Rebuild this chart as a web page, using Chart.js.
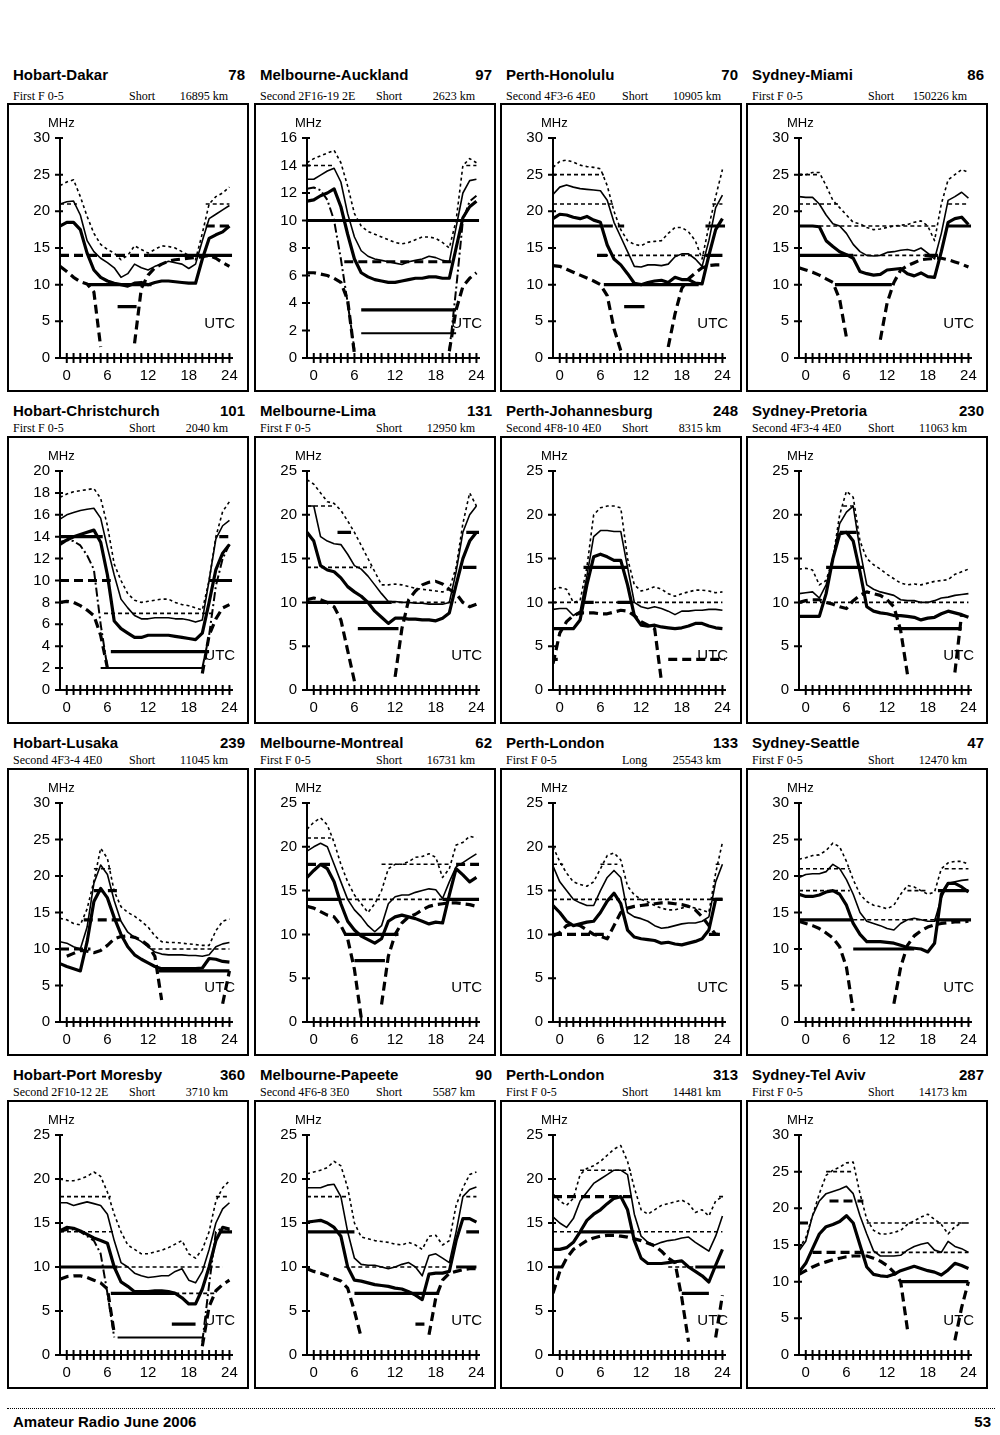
<!DOCTYPE html>
<html>
<head>
<meta charset="utf-8">
<script src="https://cdn.jsdelivr.net/npm/chart.js@4.4.1/dist/chart.umd.min.js"></script>
<style>
  body { margin: 0; background: #fff; }
  #page { position: relative; width: 1000px; height: 1435px; overflow: hidden; font-family: "Liberation Sans", Arial, sans-serif; color: #000; }
  .abs { position: absolute; white-space: nowrap; line-height: 1; }
  .title { font-weight: bold; font-size: 15px; }
  .sub { font-family: "Liberation Serif", "Times New Roman", serif; font-size: 12px; }
  .box { position: absolute; box-sizing: border-box; border: 2px solid #000; width: 242px; }
  .box canvas { position: absolute; left: 0; top: 0; }
</style>
</head>
<body>
<div id="page"></div>
<script>
// panel text
const routes = ['Hobart-Dakar', 'Melbourne-Auckland', 'Perth-Honolulu', 'Sydney-Miami',
  'Hobart-Christchurch', 'Melbourne-Lima', 'Perth-Johannesburg', 'Sydney-Pretoria',
  'Hobart-Lusaka', 'Melbourne-Montreal', 'Perth-London', 'Sydney-Seattle',
  'Hobart-Port Moresby', 'Melbourne-Papeete', 'Perth-London', 'Sydney-Tel Aviv'];
const sfi = [78, 97, 70, 86, 101, 131, 248, 230, 239, 62, 133, 47, 360, 90, 313, 287];
const modes = ['First F 0-5', 'Second 2F16-19 2E', 'Second 4F3-6 4E0', 'First F 0-5',
  'First F 0-5', 'First F 0-5', 'Second 4F8-10 4E0', 'Second 4F3-4 4E0',
  'Second 4F3-4 4E0', 'First F 0-5', 'First F 0-5', 'First F 0-5',
  'Second 2F10-12 2E', 'Second 4F6-8 3E0', 'First F 0-5', 'First F 0-5'];
const paths = ['Short', 'Short', 'Short', 'Short', 'Short', 'Short', 'Short', 'Short',
  'Short', 'Short', 'Long', 'Short', 'Short', 'Short', 'Short', 'Short'];
const distances = [16895, 2623, 10905, 150226, 2040, 12950, 8315, 11063,
  11045, 16731, 25543, 12470, 3710, 5587, 14481, 14173];

// axes
const yMax = [30, 16, 30, 30, 20, 25, 25, 25, 30, 25, 25, 30, 25, 25, 25, 30];
const yStep = [5, 2, 5, 5, 2, 5, 5, 5, 5, 5, 5, 5, 5, 5, 5, 5];
const xLabels = [0, 6, 12, 18, 24];
const hours = [-1, 0, 1, 2, 3, 4, 5, 6, 7, 8, 9, 10, 11, 12, 13, 14, 15, 16, 17, 18, 19, 20, 21, 22, 23, 24];

// curves, one value per hour from -1 to 24 (MHz)
const upper = [
  [23.5,24,24.3,22,19.3,17,15.5,14.8,14.3,13.4, 14,15.3,14.8,14.3,14.8,15.3,15.2,15,14.5,14, 13.4,17,21,22,22.5,23.3],
  [14.2,14.5,14.7,14.9,15.1,14.2,12.5,10.5,9.6,9.2, 9,8.8,8.6,8.4,8.3,8.4,8.6,8.8,8.8,8.7, 8.4,8,10,14,14.5,14.2],
  [26,26.8,27,26.7,26.3,26.1,26,25.8,23.5,20, 17.5,16,15.5,15.3,15.8,15.9,16,17,17.8,17.8, 17.2,16,13.5,18,22,25.7],
  [25,25,25.3,25.3,23.5,21.5,20.5,19.5,18.5,18.3, 17.8,17.5,17.6,17.8,18,18.1,18.2,18.5,18.7,18, 16,21,24.3,25,25.7,25.3],
  [17.6,17.9,18.1,18.2,18.3,18.4,17.5,15,11.5,10, 8.8,8.2,8,8.1,8.2,8.3,8.3,8,7.8,7.7, 7.5,7.3,10,14,16.3,17.2],
  [24,23.5,22.5,21.5,21.3,20.5,19.3,18,16.5,15, 13.5,12,12,12.1,12,11.8,11.6,11.5,11.4,11.3, 11.2,11.5,14,19,22.5,21],
  [11.5,11.7,11.5,10,10.2,14,20,20.8,21,21, 20.8,15,12,11.3,11.5,11.8,11.5,11,10.7,11, 11.2,11.4,11.4,11.3,11.1,11.2],
  [13.8,13.9,13.7,12,12.5,15,20,22.7,22,17, 15,14.3,13.8,13.2,12.7,12.2,12,12.1,12,12.2, 12.4,12.5,12.6,13.2,13.5,13.8],
  [14.2,14,13.5,13.3,15.5,19.3,23.8,22.4,17.9,15.8, 15,14.5,13.8,13,11.8,11,10.9,10.9,10.8,10.7, 10.6,10.5,10.5,12.5,13.8,14.1],
  [22,22.8,23.3,22.5,20.5,18,16,14.5,13.5,12.5, 13.5,15,17.5,18,18,18.3,18.8,18.9,19.2,18.8, 16.5,17.5,20.2,20.5,21.2,21],
  [20,18.3,17,16,15.7,15.5,16,17.5,19,19.3, 18.5,15.5,14.5,14,13.7,13.3,13,12.8,12.8,13, 13.2,13,12.8,12.5,17,20.5],
  [22.3,22.5,22.8,22.9,23.5,24.5,24,22,19.5,17.5, 16.5,16,15.8,15.5,16,17.5,18.7,18.5,18,17.5, 17.8,21,21.8,22,22,21.6],
  [20,19.8,19.8,20,20.3,20.8,20.3,18.5,16,14, 12.5,12,11.5,11.5,11.7,11.9,12.2,12.6,13,11.5, 11,12,14,17.5,19,19.8],
  [20.6,20.8,21,21.3,22,21.5,19,15,13.4,13.2, 13,12.9,12.8,12.6,12.5,12.8,12.5,12,13.5,13.6, 12.5,13,17,19,20.5,20.8],
  [18.3,17.5,17,17.8,20.5,21.2,21.5,22,22.7,23.4, 23.8,22,19,16.5,16,16.5,17,17.2,17.4,17.6, 17.2,16.2,16.5,15.8,17.5,18],
  [14.5,16,19,22,24.5,25.2,25.6,26.2,26.3,22, 18.5,17,16.5,16.5,16.7,17,17.8,18.3,18.8,19.2, 18.5,17.8,16.5,17.5,18,18]
];

const median = [
  [21,21.3,21.4,19.5,16,14.5,13.6,13,12.3,11, 11.5,12.8,12.3,12,12.5,12.8,13.2,13,12.8,12.2, 12.8,16,19,19.6,20.2,20.8],
  [13,13,13.3,13.6,13.8,12.8,10.5,8.8,7.8,7.4, 7.2,7.1,7,6.9,6.8,7,7.1,7.2,7.4,7.3, 7.1,7,9.5,12,12.9,13],
  [22.3,23.3,23.6,23.3,23.1,23,22.9,22.8,21.5,18.5, 16.5,14.5,12.5,12.4,12.7,12.7,12.6,12.8,13.8,14.2, 14.2,13.5,12.5,16,20.5,22.2],
  [22,21.9,21.9,21,19.5,18.3,18,17,15.5,14.5, 14,13.9,14,14.4,14.5,14.7,14.8,14.6,15,14.3, 13.5,17,21.5,22,22.6,21.8],
  [15.6,16,16.2,16.4,16.5,16.6,15.7,13,10.5,8.3, 7.5,6.8,6.5,6.5,6.6,6.6,6.6,6.5,6.5,6.4, 6.2,6.4,10,13.8,15,15.5],
  [21,21,17.5,17,16.7,16.6,15.5,14.2,13.8,13, 12,11,10.1,10.1,10,10,9.9,9.9,9.8,9.8, 9.8,10,13.5,18,20,21],
  [9.2,9.3,9.3,8.5,9,13,17.5,18.2,18.2,18.1, 18.1,14,10,9.5,9.3,9.5,9.3,9,8.6,9, 9,9.1,9.1,9.2,9.2,9.1],
  [11,11.1,11.2,10.5,12,15,19,20.3,21,16, 12,11.5,11.2,11,10.8,10.3,10.2,10.2,10,10, 10.2,10.5,10.6,10.8,10.9,11],
  [11,10.8,10.3,10,13,19,21.5,20.2,16.6,13.8, 12.3,11.6,11,10.3,9.6,9.3,9.2,9.2,9.2,9.1, 9.1,9,9.2,10.3,10.7,10.9],
  [19.5,20,20.4,20,18,16,14,12.8,12,11, 10.3,11,13.5,14.3,14.5,14.5,14.8,15,15.2,15.1, 14.1,16,17.7,18.2,18.7,19.2],
  [17.8,16,15,14,13.6,13.3,13.3,15,16.5,17.3, 16.5,12.5,12,11.8,11.5,11,10.7,10.8,11,11.2, 11.3,11.3,11.5,12,16,18],
  [19.8,20.2,20.3,20.3,20.6,21.6,21,19.5,17.5,15, 13.8,13.5,13.2,12.8,12.6,13.5,14,14.2,14,13.8, 13.8,17,19,19.2,19.4,19.5],
  [17.3,17.3,17,17.2,17.4,17.2,17,16,13,10.5, 10,9.3,9,8.8,8.9,9,9,9.5,9.8,8.5, 8.2,9.5,12,15,16.6,17.3],
  [19,19,19,19.3,19.4,18,14,11,10.3,10.2, 10.2,10,9.8,10,10.3,10.5,10,9,11.3,11.5, 11,10.5,14,18,18.8,19.1],
  [15.7,15,14.5,15.5,17.5,18.5,19.5,20,20.5,21, 21,20.5,16,13.5,12.8,12.5,12.8,13,13.1,13.3, 13.4,12.8,12.3,11.8,13.5,15.8],
  [14.2,15.5,19,21,22,22.3,22.6,23,22,19, 16.5,14.2,13.5,13.5,13.5,13.6,14.3,14.8,15.1,15.3, 14.3,14,15.5,14.8,14.5,14]
];

const fot = [
  [18,18.5,18.5,17.5,14.3,12,11,10.5,10.2,10, 9.8,10.2,10.3,10,10.3,10.5,10.5,10.4,10.3,10.2, 10.2,13.5,16.3,16.8,17.2,18],
  [11.4,11.5,11.8,12,12.3,11,9,7.2,6.2,5.9, 5.7,5.6,5.5,5.5,5.6,5.7,5.8,5.8,5.9,5.9, 5.8,5.8,8,10.2,11,11.4],
  [19,19.6,19.5,19.2,19,19.3,18.8,18.5,15.4,13.5, 12.7,11.5,10.2,10,10.3,10.5,10.6,10.3,11,10.7, 10.7,10.2,10.1,14,17.5,19],
  [18,18,18,17.9,16,15.2,14.5,14.1,13.6,11.8, 11.5,11.3,11.4,12,12.1,12.2,11.5,11.2,11.6,11.1, 11,14.5,18.5,19,19.2,18.2],
  [13.3,13.7,14,14.2,14.4,14.6,13.5,10.5,6.3,5.6, 5.2,4.8,4.8,5,5,5,5,4.9,4.8,4.7, 4.6,5.2,8,11,12.5,13.3],
  [18,17,14.2,13.7,13.5,12.8,11.8,11.2,10.7,10, 9,8.3,7.6,8.2,8.2,8.1,8.1,8,8,7.9, 8.2,8.8,12,15,17,18],
  [7,7,7,7,8,12,15.2,15.5,15.2,14.8, 14.8,12,8.5,7.4,7.3,7.4,7.2,7.1,7,7.1, 7.3,7.6,7.6,7.3,7.1,7],
  [8.4,8.4,8.4,8.4,11,15,17.8,18,17,13.5, 9.5,9,8.8,8.7,8.5,8.5,8.4,8.3,8,8.2, 8.3,8.7,9,8.8,8.6,8.3],
  [8,7.6,7.3,7,11,16.5,18.3,17,14.3,12, 10.3,9.2,8.6,8.1,7.6,7.3,7.3,7.3,7.3,7.3, 7.3,7.4,8.7,8.6,8.3,8.2],
  [16.5,17.3,18,17.5,16,13.5,11.5,10.5,9.8,9.4, 9,9.5,11.5,12,12.2,12,11.8,11.5,11.2,11.4, 11.3,14.5,17.5,16.8,16,16.5],
  [13.3,12.5,11.5,11,11.2,11.4,11.5,12.5,13.8,14.7, 13.5,10.5,9.7,9.5,9.4,9.3,9,9.1,8.9,8.8, 9,9.2,9.5,10.5,14,14],
  [17.5,17.2,17.2,17.4,17.8,18,17.5,16,13.5,12, 11,11,11,10.9,10.8,10.5,10.2,10.1,10,9.6, 10.8,17.5,19,19,18.5,17.8],
  [14.1,14.5,14.4,14.1,13.7,13.3,13,12.7,10,8.3, 7.8,7.2,7.2,7.2,7.3,7.3,7.2,7,6.5,5.8, 5.8,7.5,10,13,14.5,14.3],
  [15.1,15.2,15.3,15,14.5,13.5,10,8.5,8.4,8.2, 8,7.9,7.8,7.6,7.5,7.2,6.8,6.3,9.2,9.3, 9.3,9.5,13,15.5,15.5,15.1],
  [12,12,12.2,12.8,14,15.3,16,16.5,17.2,17.8, 18,16.5,13,11,10.4,10.4,10.4,10.5,10.6,10.7, 10,9.5,9,8.3,10.2,12],
  [11.3,12.5,14.5,16.5,17.5,17.8,18.2,19,18,15, 12,11,10.8,10.7,11,11.5,11.8,12.1,11.8,11.5, 11.3,10.9,11.6,12.5,12.2,11.8]
];

const luf = [
  [12.5,11.8,11,10.4,10.1,9,1.5,null,null,null, null,2,9.5,11.3,12.3,12.8,13.2,13.4,13.5,13.6, 13.7,13.8,14,13.6,13,12.5],
  [6.2,6.2,6.1,6,5.8,5.5,4.2,0.3,null,null, null,null,null,null,null,null,null,null,null,null, null,0.5,3.5,5.2,5.8,6.2],
  [12.6,12.5,12.1,11.7,11.3,10.9,10.5,10,8.5,4, 1,null,null,null,null,null,null,1.5,6,9.5, 10.8,11.6,12.3,12.6,12.7,12.7],
  [12.3,12,11.7,11.3,10.8,10.3,8,2.8,null,null, null,null,2.5,7.5,10.3,12,12.6,13,13.4,13.5, 13.6,13.6,13.4,13.1,12.8,12.4],
  [8,8.1,8,7.7,7.3,6.8,5,2,null,null, null,null,null,null,null,null,null,null,null,null, null,1.5,5,6.5,7.5,7.8],
  [10.3,10.5,10.3,10,9.5,8,4.5,1,null,null, null,null,null,1.5,7,10.3,11.3,12,12.3,12.4, 12.1,11.5,11,10,9.5,9.8],
  [3,6.5,7.8,8.5,8.8,8.8,8.8,8.7,8.7,8.9, 9.1,9,8.5,7.8,7.4,7,1,null,null,null, null,null,null,null,null,null],
  [10,10.2,10.3,10.3,10,9.8,9.5,9.3,10.2,10.8, 11.2,11,10.8,10.3,9.5,6.8,1.8,null,null,null, null,null,null,2,8.7,null],
  [null,9,9.4,9.8,9.7,9.5,9.8,10.5,11.4,11.7, 11.8,11.6,11.2,10.5,9,3,null,null,null,null, null,null,null,null,2.5,7],
  [13.2,13,12.6,12.2,12,11,9.5,6,0.5,null, null,2,7.5,10,11.3,12,12.3,12.8,13.2,13.4, 13.5,13.6,13.6,13.5,13.4,13.2],
  [9.8,10.2,11,11.2,11,10.5,10,9.8,9.5,11, 12.5,13,13.2,13.3,13.4,13.5,13.6,13.6,13.5,13.4, 13.2,12.8,12,11,10,10],
  [13.8,13.5,13.2,12.8,12.2,11.5,10.3,7.5,1.5,null, null,null,null,null,2.5,7.5,10.5,11.8,12.5,13, 13.3,13.5,13.6,13.7,13.7,13.8],
  [8.6,8.9,9,9,8.8,8.5,8.2,7.5,2.5,null, null,null,null,null,null,null,null,null,null,null, null,1,5.5,7.3,8,8.5],
  [9.8,9.5,9.3,9,8.7,8.4,7.6,5,2,null, null,null,null,null,null,null,null,null,2.3,6.5, 8.5,9.3,9.5,9.7,9.8,9.8],
  [7,9.5,11,12,12.5,13,13.3,13.5,13.6,13.6, 13.5,13.4,13.2,13,12.7,12.4,11.8,11,10.5,6.5, 1.5,null,null,null,2,6.8],
  [11,11.5,12,12.4,12.7,13,13.2,13.4,13.5,13.5, 13.5,13.2,12.8,12.2,11.3,10,3.5,null,null,null, null,null,null,2,6.5,10]
];

// second-mode curve, only on the short paths
const alt = [
  null,
  [12.3,12.4,12.2,11.5,10,7.2,4,0.6,null,null, null,null,null,null,null,null,null,null,null,null, null,0.5,5,10,11.4,11.8],
  null, null,
  [13.5,13.7,13.6,13.2,12.3,11,6,2,null,null, null,null,null,null,null,null,null,null,null,null, null,2,5,9.5,12,13.3],
  null, null, null, null, null, null, null,
  [14,14.2,14.3,14,13.5,13,11.5,7,2,null, null,null,null,null,null,null,null,null,null,null, null,1.5,8,14,14.5,14.2],
  null, null, null
];

// band openings: [from hour, to hour, MHz, grade]
const bands = [
  [[-1,1.5,21,'poor'],[20.5,24,21,'poor'],[20.5,24,18,'fair'],[-1,12,14,'fair'],[12,24.4,14,'good'],[3,12.5,10,'good'],[7.5,10.3,7,'good']],
  [[-1,3,14,'poor'],[22.5,24,14,'poor'],[4.5,21,7,'fair'],[-1,24.4,10,'good'],[7,21,3.5,'good'],[7,21,1.8,'thin']],
  [[-1,6.5,25,'poor'],[-1,8,21,'poor'],[22.5,24,21,'poor'],[-1,6.5,18,'good'],[6.5,9.5,18,'fair'],[21.5,24.4,18,'good'],[5.5,24,14,'poor'],[5.5,7,14,'good'],[21.5,24,14,'good'],[6.5,20.5,10,'good'],[9.5,12.5,7,'good']],
  [[-1,2,25,'poor'],[-1,5,21,'poor'],[21,24,21,'poor'],[2,19.5,18,'poor'],[21,24.4,18,'good'],[-1,7,14,'good'],[7,17.5,14,'poor'],[17.5,19.5,14,'good'],[4.3,12.7,10,'good']],
  [[-1,5.3,14,'good'],[22.5,24,14,'fair'],[-1,6.5,10,'fair'],[21,24.4,10,'good'],[5.5,22,7,'poor'],[6.5,21,3.5,'good'],[5,20.2,2,'thin']],
  [[-1,3,21,'poor'],[3.5,5.5,18,'good'],[22.5,24.4,18,'good'],[-1,8.5,14,'poor'],[22,24,14,'good'],[-1,11.5,10,'good'],[11.5,21,10,'poor'],[6.5,12.5,7,'good']],
  [[-1,24,10,'poor'],[3.5,5,10,'good'],[8.5,10.5,10,'good'],[3.5,10,14,'good'],[-1,-0.3,3.5,'good'],[16,24.4,3.5,'fair']],
  [[-1,24,10,'poor'],[3,8.5,14,'good'],[5,7.5,18,'good'],[5.5,7,21,'poor'],[13,23,7,'good']],
  [[4,6.5,21,'poor'],[4,7.5,18,'fair'],[2.5,8.5,14,'fair'],[-1,3.5,10,'fair'],[12.5,24,10,'poor'],[13.5,24,7,'good']],
  [[-1,2.5,21,'poor'],[-1,2.5,18,'fair'],[10,20,18,'poor'],[21,24.4,18,'fair'],[-1,4,14,'good'],[4,19,14,'poor'],[19,24.4,14,'good'],[4.5,12.5,10,'good'],[6,10.5,7,'good']],
  [[-1,0.5,18,'poor'],[6,8.5,18,'poor'],[23,24,18,'poor'],[-1,24,14,'poor'],[22.5,24,14,'good'],[-1,6.5,10,'fair'],[22,24,10,'fair']],
  [[-1,6.5,21,'poor'],[20.5,24,21,'poor'],[-1,6.5,18,'poor'],[15,18,18,'poor'],[19.5,24,18,'good'],[-1,7,14,'good'],[7,19,14,'poor'],[19,24.4,14,'good'],[7,16,10,'good']],
  [[-1,6.5,18,'poor'],[22,24,18,'poor'],[-1,7,14,'poor'],[22.5,24.4,14,'good'],[-1,7.5,10,'good'],[7.5,23,10,'poor'],[6.5,16,7,'good'],[16,22,7,'poor'],[15.5,19,3.5,'good'],[7.5,20,2,'thin']],
  [[-1,5,18,'poor'],[22.5,24,18,'poor'],[-1,6,14,'good'],[22.5,24.4,14,'good'],[4.5,20,10,'poor'],[21,24,10,'good'],[6,18.5,7,'good'],[15,17,3.5,'fair']],
  [[3,10.5,21,'poor'],[-1,11,18,'fair'],[23.5,24.2,18,'poor'],[-1,24,14,'poor'],[3,11,14,'good'],[-1,0.5,10,'good'],[16,20,10,'poor'],[20,24.4,10,'good'],[18,22,7,'good']],
  [[3,7,25,'poor'],[3.5,8.5,21,'fair'],[-1,0.5,18,'fair'],[9,24,18,'poor'],[1,9,14,'fair'],[9,24,14,'poor'],[14,24,10,'good']]
];

// layout
const colX = [7, 254, 500, 746];
const rowBox = [103, 436, 768, 1100];
const rowH = [289, 288, 288, 289];
const rowTitle = [74, 410, 742, 1074];
const rowSub = [96, 428, 760, 1092];

const STYLE = {
  upper:  { borderWidth: 1.6, borderDash: [3, 3] },
  median: { borderWidth: 1.6 },
  fot:    { borderWidth: 3.2 },
  luf:    { borderWidth: 3.2, borderDash: [9, 5] },
  alt:    { borderWidth: 2, borderDash: [9, 3, 2, 3] },
  good:   { borderWidth: 3.2 },
  fair:   { borderWidth: 3.2, borderDash: [9, 5] },
  poor:   { borderWidth: 1.6, borderDash: [4, 3] },
  thin:   { borderWidth: 2 }
};
const FONT = '"Liberation Sans", Arial, sans-serif';

const page = document.getElementById('page');

function text(str, cls, left, centerY, size, right) {
  const d = document.createElement('div');
  d.className = 'abs ' + cls;
  d.textContent = str;
  d.style.top = (centerY - size / 2) + 'px';
  if (right) { d.style.left = (left - 300) + 'px'; d.style.width = '300px'; d.style.textAlign = 'right'; }
  else d.style.left = left + 'px';
  page.appendChild(d);
}

function line(vals, kind) {
  return Object.assign({
    data: hours.map((h, i) => ({ x: h, y: vals[i] })),
    borderColor: '#000', pointRadius: 0, tension: 0, spanGaps: false,
    borderJoinStyle: 'round', fill: false
  }, STYLE[kind]);
}

function segment(b) {
  return Object.assign({
    data: [{ x: b[0], y: b[2] }, { x: b[1], y: b[2] }],
    borderColor: '#000', pointRadius: 0, fill: false
  }, STYLE[b[3]]);
}

// hour ticks across the x axis, MHz and UTC labels
const frame = {
  id: 'frame',
  afterDraw(chart) {
    const { ctx, chartArea: a, scales: { x, y } } = chart;
    ctx.save();
    ctx.strokeStyle = '#000';
    ctx.lineWidth = 2;
    ctx.beginPath();
    for (let h = 0; h <= 24; h++) {
      const px = x.getPixelForValue(h);
      ctx.moveTo(px, a.bottom - 5);
      ctx.lineTo(px, a.bottom + 5);
    }
    y.ticks.forEach(t => {
      const py = y.getPixelForValue(t.value);
      ctx.moveTo(a.left - 5, py);
      ctx.lineTo(a.left + 3, py);
    });
    ctx.stroke();
    ctx.fillStyle = '#000';
    ctx.textBaseline = 'middle';
    ctx.font = '13px ' + FONT;
    ctx.textAlign = 'left';
    ctx.fillText('MHz', a.left - 12, a.top - 15);
    ctx.font = '15px ' + FONT;
    ctx.textAlign = 'right';
    ctx.fillText('UTC', a.right + 3, a.bottom - 34);
    ctx.restore();
  }
};

for (let i = 0; i < 16; i++) {
  const col = i % 4, row = Math.floor(i / 4);
  const x0 = colX[col];

  text(routes[i], 'title', x0 + 6, rowTitle[row], 15);
  text(String(sfi[i]), 'title', x0 + 238, rowTitle[row], 15, true);
  text(modes[i], 'sub', x0 + 6, rowSub[row], 12);
  text(paths[i], 'sub', x0 + 122, rowSub[row], 12);
  text(distances[i] + ' km', 'sub', x0 + 221, rowSub[row], 12, true);

  const box = document.createElement('div');
  box.className = 'box';
  box.style.left = x0 + 'px';
  box.style.top = rowBox[row] + 'px';
  box.style.height = rowH[row] + 'px';
  const cv = document.createElement('canvas');
  cv.width = 238;
  cv.height = rowH[row] - 4;
  box.appendChild(cv);
  page.appendChild(box);

  const datasets = bands[i].map(segment);
  datasets.push(line(upper[i], 'upper'), line(median[i], 'median'), line(fot[i], 'fot'), line(luf[i], 'luf'));
  if (alt[i]) datasets.push(line(alt[i], 'alt'));

  const yTicks = [];
  for (let v = 0; v <= yMax[i]; v += yStep[i]) yTicks.push({ value: v });

  new Chart(cv.getContext('2d'), {
    type: 'line',
    data: { datasets },
    options: {
      responsive: false,
      animation: false,
      layout: { padding: { left: 8, right: 14, top: 33, bottom: 0 } },
      plugins: { legend: { display: false }, tooltip: { enabled: false } },
      scales: {
        x: {
          type: 'linear', min: -1, max: 24.4,
          afterBuildTicks: s => { s.ticks = xLabels.map(v => ({ value: v })); },
          afterFit: s => { s.height = 32; },
          grid: { display: false, drawTicks: false },
          border: { display: true, color: '#000', width: 2 },
          ticks: { autoSkip: false, maxRotation: 0, padding: 9, color: '#000', font: { family: FONT, size: 15 } }
        },
        y: {
          min: 0, max: yMax[i],
          afterBuildTicks: s => { s.ticks = yTicks; },
          afterFit: s => { s.width = 43; },
          grid: { display: false, drawTicks: false },
          border: { display: true, color: '#000', width: 2 },
          ticks: { padding: 10, color: '#000', font: { family: FONT, size: 15 } }
        }
      }
    },
    plugins: [frame]
  });
}

// footer
const rule = document.createElement('div');
rule.style.cssText = 'position:absolute;left:7px;top:1408px;width:988px;border-top:1px dotted #000;';
page.appendChild(rule);
text('Amateur Radio June 2006', 'title', 13, 1421, 15);
text('53', 'title', 991, 1421, 15, true);
</script>
</body>
</html>
